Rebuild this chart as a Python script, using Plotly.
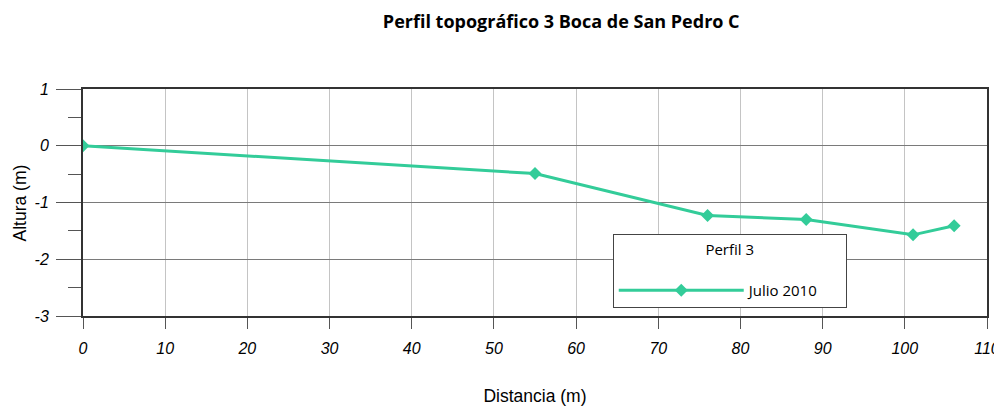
import plotly.graph_objects as go

distancia = [0, 55, 76, 88, 101, 106]
altura = [0, -0.49, -1.23, -1.30, -1.57, -1.41]
serie = "Julio 2010"
legend_title = "Perfil 3"
title = "Perfil topográfico 3 Boca de San Pedro C"
x_title = "Distancia (m)"
y_title = "Altura (m)"
x_ticks = list(range(0, 111, 10))
y_ticks = [1, 0, -1, -2, -3]

color = "#33cc99"

fig = go.Figure()
fig.add_trace(go.Scatter(
    x=distancia, y=altura, name=serie, mode="lines+markers",
    line=dict(color=color, width=3),
    marker=dict(symbol="diamond", size=10, color=color),
))

fig.update_layout(
    width=994, height=401,
    margin=dict(l=75, r=15, t=81, b=93),
    paper_bgcolor="white", plot_bgcolor="white",
    title=dict(text=f"<b>{title}</b>", x=0.529, xanchor="center", xref="paper",
               y=0.965, yanchor="middle",
               font=dict(family="Open Sans", size=18, color="black")),
    showlegend=True,
    legend=dict(
        orientation="h",
        x=0.586, y=0.361, xanchor="left", yanchor="top",
        bgcolor="white", bordercolor="#444", borderwidth=1,
        title=dict(text=legend_title + "<br>", side="top center",
                   font=dict(family="Open Sans", size=15, color="black")),
        font=dict(family="Open Sans", size=15, color="black"),
        itemwidth=125,
        entrywidth=92,
    ),
    xaxis=dict(
        range=[0, 110], tickvals=x_ticks, ticktext=[str(v) for v in x_ticks],
        automargin=False,
        showgrid=True, gridcolor="#c4c4c4", gridwidth=1,
        zeroline=False,
        showline=True, linecolor="#333", linewidth=2, mirror=True,
        ticks="outside", ticklen=11, tickcolor="#555", tickwidth=1,
        ticklabelstandoff=6,
        tickfont=dict(family="Liberation Sans", size=16, color="black", style="italic"),
        title=dict(text=x_title, standoff=34,
                   font=dict(family="Liberation Sans", size=17.5, color="black")),
    ),
    yaxis=dict(
        range=[-3, 1], tickvals=y_ticks, ticktext=[str(v) for v in y_ticks],
        automargin=False,
        showgrid=True, gridcolor="#7a7a7a", gridwidth=1,
        zeroline=True, zerolinecolor="#7a7a7a", zerolinewidth=1,
        showline=True, linecolor="#333", linewidth=2, mirror=True,
        ticks="outside", ticklen=25, tickcolor="#555", tickwidth=1,
        ticklabelstandoff=4,
        minor=dict(dtick=0.5, tick0=0.5, ticks="outside", ticklen=13, tickcolor="#555", showgrid=False),
        tickfont=dict(family="Liberation Sans", size=16, color="black", style="italic"),
    ),
    annotations=[dict(
        text=y_title, xref="paper", yref="paper", x=-0.0697, y=0.5,
        xanchor="center", yanchor="middle", textangle=-90, showarrow=False,
        font=dict(family="Liberation Sans", size=17.5, color="black"),
    )],
)

fig.write_html("out.html")
